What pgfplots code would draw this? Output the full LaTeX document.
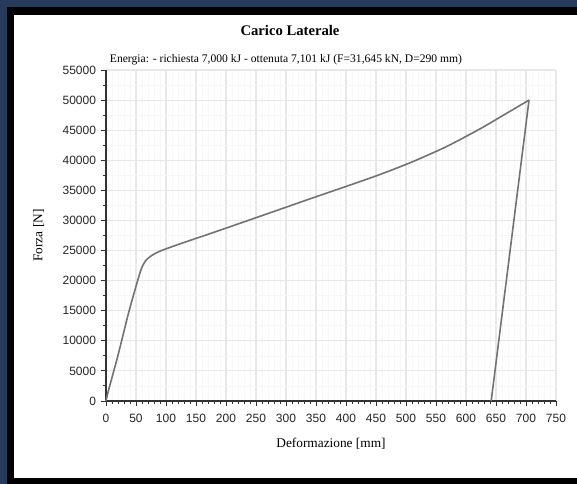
\documentclass[border=0pt]{standalone}
\usepackage{pgfplots}
\pgfplotsset{compat=1.18}
\usepackage{fontspec}
\setmainfont{Liberation Serif}
\newfontfamily\tickfont{Liberation Sans}
\definecolor{bgblue}{RGB}{38,58,92}
\definecolor{curvegray}{RGB}{115,115,115}
\begin{document}
\begin{tikzpicture}[x=0.75pt,y=0.75pt]
% background and frame (pixel coordinates, y measured from bottom)
\fill[bgblue] (0,0) rectangle (577,484);
\fill[black] (7,0) rectangle (577,477);
\fill[white] (14,6) rectangle (577,469);
\node[font=\bfseries\fontsize{11}{13}\selectfont] at (290,454) {Carico Laterale};
\node[font=\fontsize{8.7}{10}\selectfont] at (286,424) {Energia: - richiesta 7,000 kJ - ottenuta 7,101 kJ (F=31,645 kN, D=290 mm)};
\begin{axis}[
  at={(79.5pt,62.25pt)}, anchor=south west,
  scale only axis, width=337.5pt, height=248.25pt,
  xmin=0, xmax=750, ymin=0, ymax=55000,
  axis x line*=bottom, axis y line*=left,
  axis line style={black!80, line width=0.8pt},
  xtick={0,50,...,750}, ytick={0,5000,...,55000},
  minor x tick num=4, minor y tick num=1,
  tick align=outside,
  major tick length=4pt, minor tick length=2.5pt,
  tick style={black!80, line width=0.7pt},
  grid=both,
  major grid style={gray!18, line width=0.8pt},
  minor grid style={gray!6, line width=0.5pt},
  scaled ticks=false,
  /pgf/number format/.cd, 1000 sep={}, assume math mode=true,
  /pgfplots/.cd,
  ticklabel style={font=\tickfont\fontsize{9}{10}\selectfont, text=black!85},
  xticklabel style={yshift=-2pt},
  xlabel={Deformazione [mm]}, ylabel={Forza [N]},
  label style={font=\fontsize{10}{12}\selectfont},
  xlabel style={yshift=-5pt},
  ylabel style={yshift=7pt},
  clip=false,
]
\addplot[curvegray, line width=1.2pt, smooth, tension=0.4] coordinates {
(0,0) (4,1700) (20,7600) (37,14400) (51,19400) (59,22000) (66,23300) (75,24100) (90,24900) (120,26000) (179,28000) (234,29900) (290,31850) (346,33800) (400,35650) (457,37650) (512,39800) (568,42300) (623,45200) (660,47350) (705,50000)
};
\addplot[curvegray, line width=1.2pt] coordinates {(705,50000) (642,0)};
\end{axis}
\end{tikzpicture}
\end{document}
